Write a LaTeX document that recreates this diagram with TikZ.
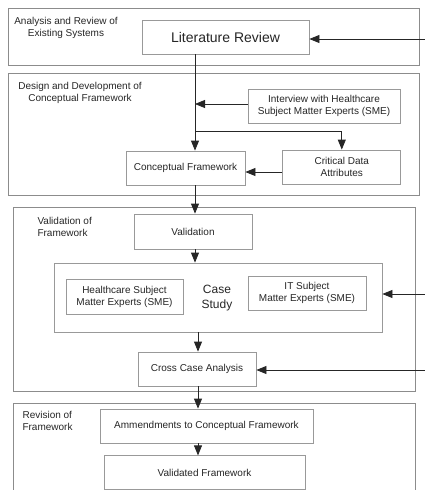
\documentclass[tikz,border=0pt]{standalone}
\usepackage{fontspec}
\setmainfont{Liberation Sans}
\usetikzlibrary{arrows.meta,positioning}

\begin{document}
\begin{tikzpicture}[x=1pt,y=-1pt,
	phase/.style={draw=black!45,line width=0.8pt},
	stepbox/.style={draw=black!40,line width=0.8pt,fill=white,minimum height=34pt,
		align=center,inner sep=2pt,font=\fontsize{10}{12}\selectfont,text=black!85},
	phaselabel/.style={align=center,font=\fontsize{10}{11.5}\selectfont,text=black!85},
	flow/.style={draw=black!85,line width=0.8pt,-{Triangle[length=10pt,width=8pt]}}]
	\useasboundingbox (0,0) rectangle (425,490);
	% phase frames
	\draw[phase] (8,8) rectangle (419,65);
	\draw[phase] (8,73) rectangle (419,195);
	\draw[phase] (13,207) rectangle (415,391);
	\draw[phase] (13,495) -- (13,403) -- (415,403) -- (415,495);
	\node[phaselabel] (p1label) at (66,28) {Analysis and Review of\\Existing Systems};
	\node[phaselabel] (p2label) at (80,93) {Design and Development of\\Conceptual Framework};
	\node[phaselabel,align=left,anchor=west] (p3label) at (34,227) {Validation of\\Framework};
	\node[phaselabel,align=left,anchor=west] (p4label) at (19,421) {Revision of\\Framework};
	% steps
	\node[stepbox,minimum width=167pt,font=\fontsize{14}{16}\selectfont] (lit) at (225.5,37) {Literature Review};
	\node[stepbox,minimum width=152pt] (interview) at (324,106) {Interview with Healthcare\\Subject Matter Experts (SME)};
	\node[stepbox,minimum width=119pt] (concept) at (185.5,168) {Conceptual Framework};
	\node[stepbox,minimum width=118pt,right=37pt of concept,yshift=1pt] (critical) {Critical Data\\Attributes};
	\node[stepbox,minimum width=118pt,minimum height=35pt] (valid) at (193,231.5) {Validation};
	\node[stepbox,minimum width=328pt,minimum height=69pt] (casestudy) at (218,297.5) {};
	\node[stepbox,minimum width=117pt,minimum height=35pt] (hcsme) at (124.5,296.5) {Healthcare Subject\\Matter Experts (SME)};
	\node[stepbox,minimum width=118pt] (itsme) at (307,293) {IT Subject\\Matter Experts (SME)};
	\node[align=center,font=\fontsize{12}{15}\selectfont,text=black!85] (cslabel) at (217,298) {Case\\Study};
	\node[stepbox,minimum width=118pt] (cross) at (197,369) {Cross Case Analysis};
	\node[stepbox,minimum width=213pt] (amend) at (206.5,426) {Ammendments to Conceptual Framework};
	\node[stepbox,minimum width=201pt,below=12pt of amend,xshift=-2pt] (validated) {Validated Framework};
	% connectors
	\coordinate (trunk) at (195,0);
	\coordinate (split) at (195,131);
	\coordinate (lower) at (198,0);
	\coordinate (feedA) at (425,39);
	\coordinate (feedB) at (425,294);
	\coordinate (feedC) at (425,370);
	\draw[flow] (lit.south -| trunk) -- (concept.north -| trunk);
	\draw[flow] ([yshift=2pt]interview.west) -- ([yshift=2pt]interview.west -| trunk);
	\draw[flow] (split) -| (critical.north);
	\draw[flow] ([yshift=-5pt]critical.west) -- ([yshift=-5pt]critical.west -| concept.east);
	\draw[flow] (concept.south -| trunk) -- (valid.north -| trunk);
	\draw[flow] (valid.south -| trunk) -- (casestudy.north -| trunk);
	\draw[flow] (casestudy.south -| lower) -- (cross.north -| lower);
	\draw[flow] (cross.south -| lower) -- (amend.north -| lower);
	\draw[flow] (amend.south -| lower) -- (validated.north -| lower);
	\draw[flow] (feedA) -- (feedA -| lit.east);
	\draw[flow] (feedB) -- (feedB -| casestudy.east);
	\draw[flow] (feedC) -- (feedC -| cross.east);
\end{tikzpicture}
\end{document}
